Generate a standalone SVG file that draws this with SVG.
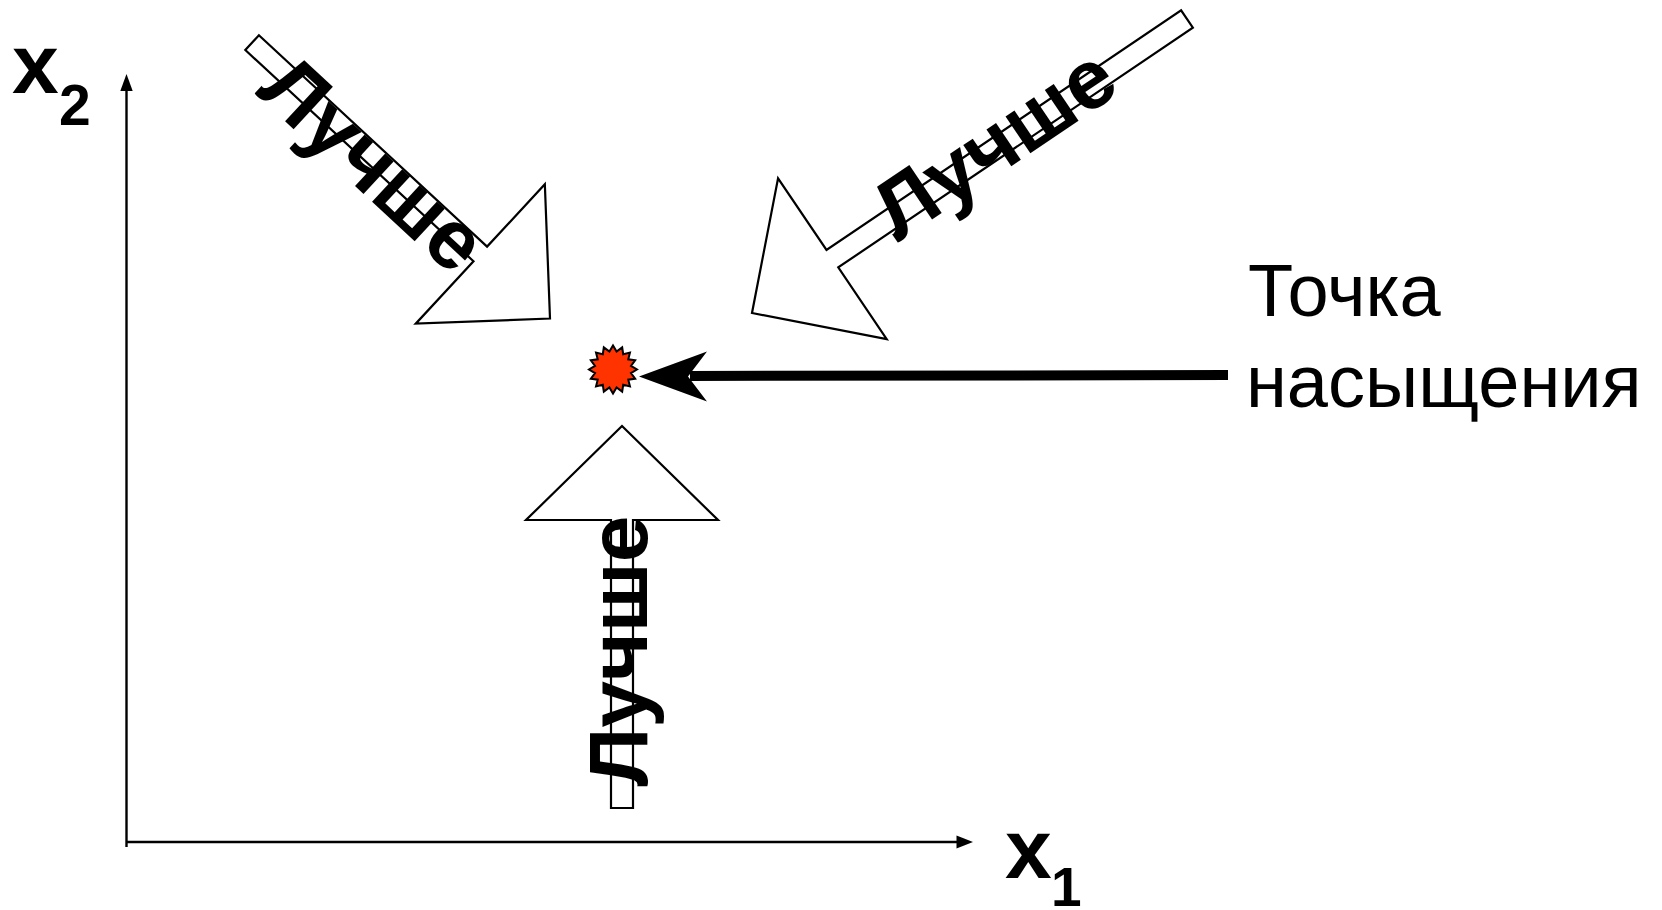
<svg xmlns="http://www.w3.org/2000/svg" width="1662" height="910" viewBox="0 0 1662 910">
  <style>
    .axis { stroke: #000; stroke-width: 2.4; fill: none; }
    .axis-head { fill: #000; stroke: none; }
    .block { fill: #fff; stroke: #000; stroke-width: 2.2; stroke-linejoin: miter; }
    .lbl { font-family: "Liberation Sans", Arial, sans-serif; font-weight: bold; fill: #000; }
    .better { font-family: "Liberation Sans", Arial, sans-serif; font-weight: bold; font-size: 84px; fill: #000; text-anchor: middle; }
    .caption { font-family: "Liberation Sans", Arial, sans-serif; font-size: 74px; fill: #000; }
  </style>

  <!-- coordinate axes -->
  <g id="axes">
    <line class="axis" x1="126.5" y1="89" x2="126.5" y2="847"/>
    <polygon class="axis-head" points="126.5,74 120.3,91 132.7,91"/>
    <line class="axis" x1="126" y1="842" x2="958" y2="842"/>
    <polygon class="axis-head" points="973,842 956.5,835.5 956.5,848.5"/>
  </g>

  <g id="label-x2">
    <text class="lbl" x="12" y="93" font-size="84">x</text>
    <text class="lbl" x="59" y="125" font-size="57">2</text>
  </g>
  <g id="label-x1">
    <text class="lbl" x="1005" y="878" font-size="84">x</text>
    <text class="lbl" x="1051" y="906" font-size="55">1</text>
  </g>

  <!-- hollow block arrows, each drawn in local frame with the tip at the origin -->
  <g id="arrow-top-left">
    <polygon class="block" transform="translate(550,318.5) rotate(42.8)"
      points="0,0 -95,-95 -95,-10 -406,-10 -406,10 -95,10 -95,95"/>
    <text class="better" transform="translate(354,185) rotate(42.8)">Лучше</text>
  </g>

  <g id="arrow-top-right">
    <polygon class="block" transform="translate(752,313) rotate(145.95)"
      points="0,0 -97,-97 -97,-10.5 -525,-10.5 -525,10.5 -97,10.5 -97,97"/>
    <text class="better" transform="translate(1010,167) rotate(-34)">Лучше</text>
  </g>

  <g id="arrow-bottom">
    <polygon class="block" transform="translate(622,426) rotate(-90)"
      points="0,0 -94,-96 -94,-11 -382,-11 -382,11 -94,11 -94,96"/>
    <text class="better" transform="translate(647,651) rotate(-90)">Лучше</text>
  </g>

  <!-- saturation point marker -->
  <g id="saturation-point">
    <polygon transform="translate(613,369.5)" fill="#ff3300" stroke="#000" stroke-width="2"
      points="24,0 18,3.58 22.17,9.18 15.27,10.2 16.97,16.97 10.2,15.27 9.18,22.17 3.58,18 0,24 -3.58,18 -9.18,22.17 -10.2,15.27 -16.97,16.97 -15.27,10.2 -22.17,9.18 -18,3.58 -24,0 -18,-3.58 -22.17,-9.18 -15.27,-10.2 -16.97,-16.97 -10.2,-15.27 -9.18,-22.17 -3.58,-18 0,-24 3.58,-18 9.18,-22.17 10.2,-15.27 16.97,-16.97 15.27,-10.2 22.17,-9.18 18,-3.58"/>
  </g>

  <!-- pointer from caption to the marker -->
  <g id="connectors">
    <line x1="690" y1="376" x2="1228" y2="375" stroke="#000" stroke-width="10"/>
    <polygon fill="#000" points="639,376.5 707,351.5 688,376.5 707,401.5"/>
  </g>

  <g id="caption">
    <text class="caption"><tspan x="1248" y="316">Точка</tspan><tspan x="1246" y="407">насыщения</tspan></text>
  </g>
</svg>
